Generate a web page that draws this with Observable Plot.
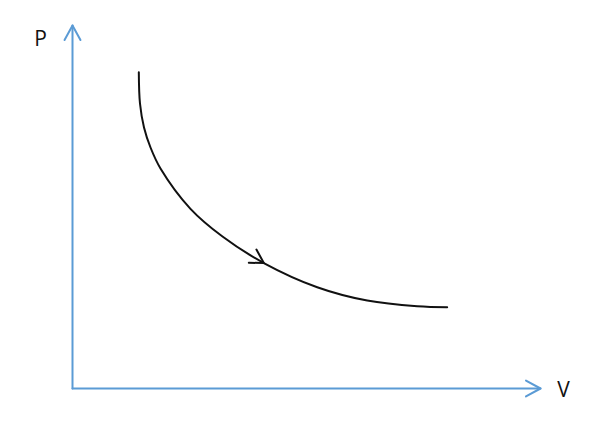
<!DOCTYPE html>
<html>
<head>
<meta charset="utf-8">
<script src="https://cdn.jsdelivr.net/npm/d3@7"></script>
<script src="https://cdn.jsdelivr.net/npm/@observablehq/plot@0.6"></script>
<style>
  html, body { margin: 0; padding: 0; background: #fff; }
</style>
</head>
<body>
<div id="chart"></div>
<script>
// Process curve (V, P) in arbitrary units (axis span 0..100)
const curveV = [14.17, 14.42, 15.28, 16.67, 18.80, 25.21, 32.05, 40.88, 52.29, 62.97, 73.65, 80.06];
const curveP = [87.13, 78.51, 71.90, 66.39, 60.61, 49.50, 41.87, 34.57, 27.91, 24.24, 22.67, 22.40];

// Direction arrowhead (chevron) on the curve
const headV = [39.3, 40.88, 37.67];
const headP = [38.29, 34.57, 34.63];

// Axes: shaft from origin to tip, then chevron head (wing, tip, wing)
const pAxisV = [0, 0];
const pAxisP = [0, 100];
const pHeadV = [-1.7, 0, 1.7];
const pHeadP = [96.0, 100, 96.0];
const vAxisV = [0, 100];
const vAxisP = [0, 0];
const vHeadV = [96.9, 100, 96.9];
const vHeadP = [2.2, 0, -2.2];

// Axis labels
const labelText = ["P", "V"];
const labelV = [-6.84, 104.9];
const labelP = [96.1, -0.55];

const toRows = (vs, ps, g) => vs.map((v, i) => ({V: v, P: ps[i], g}));
const curve = toRows(curveV, curveP, "curve");
const head = toRows(headV, headP, "head");
const axisLines = [
  ...toRows(pAxisV, pAxisP, "pAxis"),
  ...toRows(pHeadV, pHeadP, "pHead"),
  ...toRows(vAxisV, vAxisP, "vAxis"),
  ...toRows(vHeadV, vHeadP, "vHead")
];
const labels = labelText.map((t, i) => ({t, V: labelV[i], P: labelP[i]}));

const blue = "#5b9bd5";

const chart = Plot.plot({
  width: 609,
  height: 430,
  marginLeft: 72,
  marginRight: 69,
  marginTop: 25,
  marginBottom: 42,
  x: {domain: [0, 100], axis: null},
  y: {domain: [0, 100], axis: null},
  style: {background: "#fff", fontFamily: "'Open Sans', sans-serif"},
  marks: [
    Plot.line(axisLines, {x: "V", y: "P", z: "g", stroke: blue, strokeWidth: 2, curve: "linear", strokeLinecap: "round"}),
    Plot.line(curve, {x: "V", y: "P", stroke: "#111", strokeWidth: 2, curve: "catmull-rom"}),
    Plot.line(head, {x: "V", y: "P", stroke: "#111", strokeWidth: 2, curve: "linear"}),
    Plot.text(labels, {x: "V", y: "P", text: "t", fontSize: 21, fill: "#111"})
  ]
});
document.getElementById("chart").appendChild(chart);
</script>
</body>
</html>
